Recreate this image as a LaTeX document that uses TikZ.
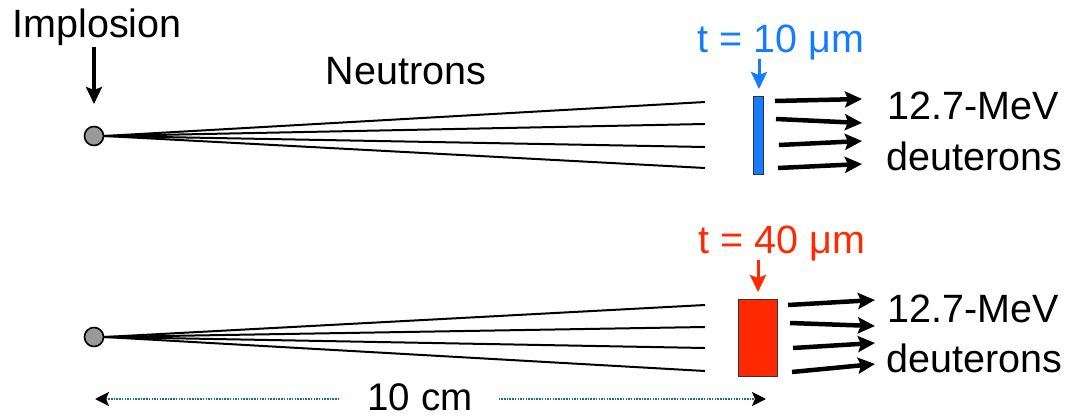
\documentclass[tikz,border=0pt]{standalone}
\usepackage{fontspec}
\setmainfont{Liberation Sans}
\usetikzlibrary{arrows.meta}
\definecolor{tblue}{RGB}{20,125,255}
\definecolor{tred}{RGB}{255,40,0}
\definecolor{dimteal}{RGB}{20,120,110}
\tikzset{
  lbl/.style={inner sep=0pt, anchor=base, font=\fontsize{39.5}{41}\selectfont},
  src/.style={circle, draw=black, line width=1.6pt, fill=black!40, minimum size=19pt, inner sep=0pt},
  ray/.style={line width=2pt},
  dray/.style={line width=4.5pt, -{Stealth[length=17pt,width=16pt,inset=3pt]}},
  pointer/.style={line width=3.4pt, -{Stealth[length=17pt,width=16pt,inset=3pt]}},
  foil/.style={draw=black!80, line width=1pt, inner sep=0pt},
  dimline/.style={dimteal, line width=2.5pt, dash pattern=on 1.5pt off 1.2pt, -{Stealth[black,length=14pt,width=14pt,inset=3pt]}}
}
\begin{document}
\begin{tikzpicture}[x=1pt,y=-1pt]
\useasboundingbox (0,0) rectangle (1065,417);

% ---- top ----
\node[lbl] (impl) at (97,38) {Implosion};
\node[src] (c1) at (94,136) {};
\coordinate (ia) at (94,47);
\draw[pointer] (ia) -- (c1.north |- 0,104);
\node[lbl] (neut) at (406,85) {Neutrons};
\coordinate (e11) at (705,102);
\coordinate (e12) at (705,124);
\coordinate (e13) at (705,147);
\coordinate (e14) at (705,168);
\foreach \e in {e11,e12,e13,e14} \draw[ray] (c1.east) -- (\e);

\node[foil, fill=tblue, minimum width=10pt, minimum height=77pt] (f1) at (758,135.5) {};
\node[lbl, tblue] (t1) at (781,53) {t = 10 μm};
\coordinate (p1s) at (759,59);
\coordinate (p1e) at (759,89);
\draw[pointer, tblue, line width=3pt] (p1s) -- (p1e);

\coordinate (d11s) at (775,101); \coordinate (d11e) at (862,99);
\coordinate (d12s) at (776,119); \coordinate (d12e) at (862,123);
\coordinate (d13s) at (779,145); \coordinate (d13e) at (862,141);
\coordinate (d14s) at (778,168); \coordinate (d14e) at (862,164);
\draw[dray] (d11s) -- (d11e);
\draw[dray] (d12s) -- (d12e);
\draw[dray] (d13s) -- (d13e);
\draw[dray] (d14s) -- (d14e);
\node[lbl, anchor=base west] (m1) at (887,120) {12.7-MeV};
\node[lbl, anchor=base west] (de1) at (886,170) {deuterons};

% ---- bottom ----
\node[src] (c2) at (94,337) {};
\coordinate (e21) at (705,305);
\coordinate (e22) at (705,327);
\coordinate (e23) at (705,348);
\coordinate (e24) at (705,371);
\foreach \e in {e21,e22,e23,e24} \draw[ray] (c2.east) -- (\e);

\node[foil, fill=tred, minimum width=39pt, minimum height=77pt] (f2) at (757.5,337.5) {};
\node[lbl, tred] (t2) at (782,253) {t = 40 μm};
\coordinate (p2s) at (758,260);
\coordinate (p2e) at (758,292);
\draw[pointer, tred, line width=3pt] (p2s) -- (p2e);

\coordinate (d21s) at (788,305); \coordinate (d21e) at (875,300);
\coordinate (d22s) at (790,323); \coordinate (d22e) at (875,326);
\coordinate (d23s) at (793,348); \coordinate (d23e) at (875,343);
\coordinate (d24s) at (792,372); \coordinate (d24e) at (875,364);
\draw[dray] (d21s) -- (d21e);
\draw[dray] (d22s) -- (d22e);
\draw[dray] (d23s) -- (d23e);
\draw[dray] (d24s) -- (d24e);
\node[lbl, anchor=base west] (m2) at (887,322) {12.7-MeV};
\node[lbl, anchor=base west] (de2) at (886,372) {deuterons};

% ---- dimension ----
\node[lbl, font=\fontsize{38.5}{40}\selectfont] (dim) at (420,410) {10 cm};
\coordinate (dl) at (95,399);
\coordinate (dr) at (766,399);
\draw[dimline] (dim.west |- dl) ++(-28,0) -- (dl);
\draw[dimline] (dim.east |- dr) ++(26,0) -- (dr);
\end{tikzpicture}
\end{document}
